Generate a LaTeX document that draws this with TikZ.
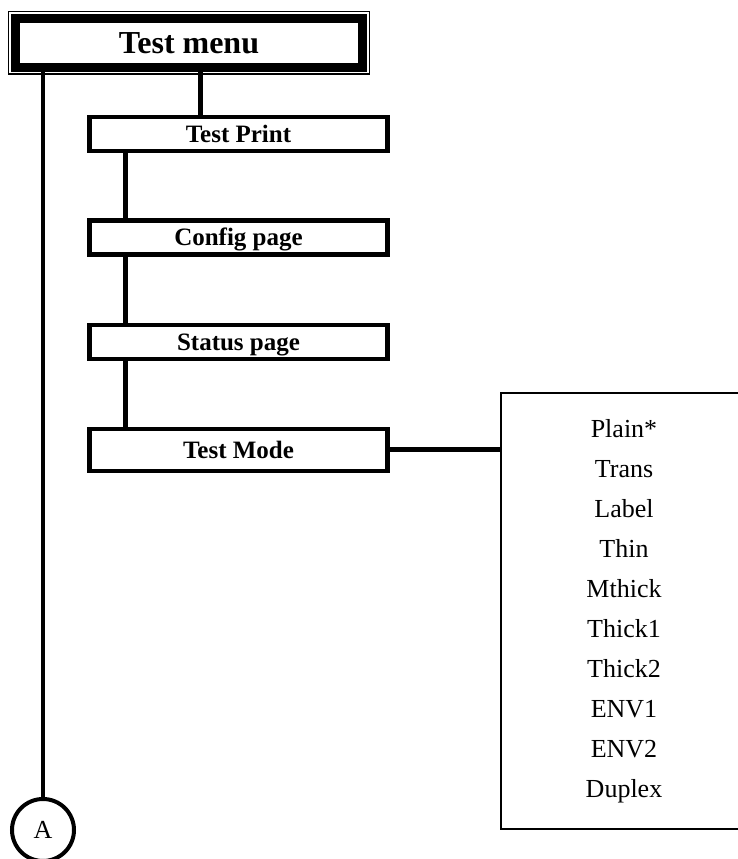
\documentclass[tikz,border=0pt]{standalone}
\usepackage{fontspec}
\setmainfont{Liberation Serif}
\usepackage{tikz}
\usetikzlibrary{positioning,calc}
\tikzset{
  menubox/.style={draw,line width=9pt,outer sep=0pt,minimum width=347pt,minimum height=48.5pt,
    text height=21pt,text depth=0pt,font=\bfseries\fontsize{32}{32}\selectfont},
  outerframe/.style={draw,line width=1.5pt},
  subbox/.style={draw,line width=4.5pt,outer sep=0pt,minimum width=298pt,minimum height=34pt,
    text height=16.5pt,text depth=0pt,font=\bfseries\fontsize{25}{25}\selectfont},
  listbox/.style={draw,line width=1.6pt,outer sep=0pt,minimum width=259pt,minimum height=436pt},
  opt/.style={anchor=base,inner sep=0pt,font=\fontsize{26}{26}\selectfont},
  circ/.style={circle,draw,line width=4pt,outer sep=0pt,inner sep=0pt,minimum size=62pt,
    font=\fontsize{26}{26}\selectfont},
  link/.style={draw,line width=5pt},
  rail/.style={draw,line width=4pt},
}
\begin{document}
\begin{tikzpicture}[x=1pt,y=1pt]
\clip (0,0) rectangle (738,859);
\node[menubox] (menu) at (189,816) {Test menu};
\draw[outerframe] ([shift={(-7pt,7pt)}]menu.north west) rectangle ([shift={(7pt,-7pt)}]menu.south east);
\node[subbox] (print) at (238.5,725) {Test Print};
\node[subbox] (config) at (238.5,621.5) {Config page};
\node[subbox] (status) at (238.5,517) {Status page};
\node[subbox,minimum height=42pt] (mode) at (238.5,409) {Test Mode};
\node[listbox] (modes) at (630.5,248) {};
\foreach \t [count=\i] in {Plain*,Trans,Label,Thin,Mthick,Thick1,Thick2,ENV1,ENV2,Duplex}
  \node[opt] (m\i) at (624,{421-40*(\i-1)}) {\t};
\node[circ] (a) at (43,29) {A};
\coordinate (spine) at (125,0);
\draw[link] ([xshift=11pt]menu.south) -- ([xshift=-38.5pt]print.north);
\draw[link] (print.south -| spine) -- (config.north -| spine);
\draw[link] (config.south -| spine) -- (status.north -| spine);
\draw[link] (status.south -| spine) -- (mode.north -| spine);
\draw[link] (mode.east) -- (mode.east -| modes.west);
\draw[rail] (menu.south -| a) -- (a.north);
\end{tikzpicture}
\end{document}
